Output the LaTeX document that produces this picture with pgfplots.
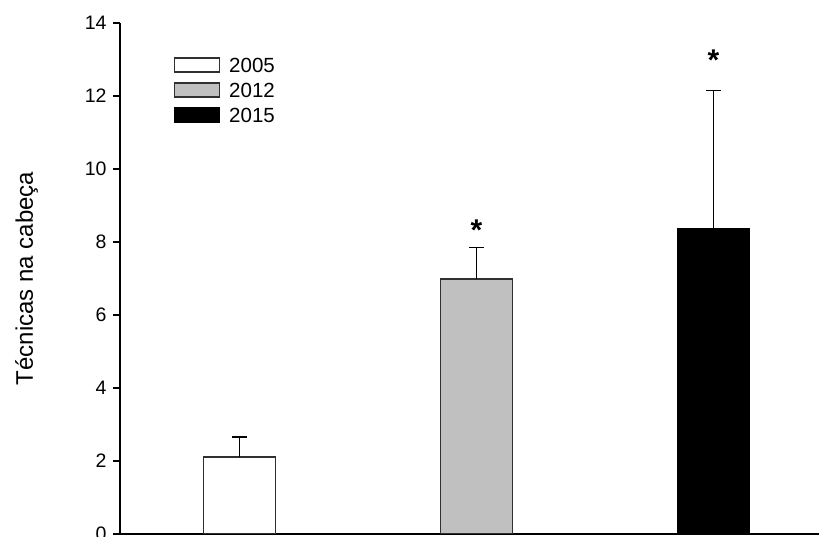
\documentclass[border=0pt]{standalone}
\usepackage{fontspec}
\setmainfont{Liberation Sans}
\usepackage{pgfplots}
\pgfplotsset{compat=1.18}
\definecolor{barline}{HTML}{303030}
\definecolor{midgray}{HTML}{C0C0C0}
\begin{document}
\begin{tikzpicture}[x=1pt,y=1pt]
\clip (0,0) rectangle (819,537);
\begin{axis}[
  scale only axis,
  width=699pt, height=511pt,
  at={(120pt,3pt)}, anchor=south west,
  xmin=-0.504, xmax=2.445,
  ymin=0, ymax=14,
  ytick={0,2,4,6,8,10,12,14},
  xtick=\empty,
  axis lines*=left,
  x axis line style={line width=2.3pt, black},
  y axis line style={line width=1.3pt, black},
  tick align=outside,
  major tick length=7pt,
  tick style={line width=1.2pt, black},
  /pgf/number format/assume math mode=true,
  yticklabel style={font=\fontsize{19.5}{21}\selectfont, xshift=-3pt},
  ylabel={Técnicas na cabeça},
  ylabel style={font=\fontsize{24}{26}\selectfont, at={(axis description cs:-0.1245,0.5)}, anchor=base},
  ybar, bar width=71.5pt, bar shift=0pt,
  error bars/y dir=plus, error bars/y explicit,
  error bars/error bar style={line width=1.3pt, black},
  error bars/error mark options={rotate=90, mark size=7.5pt, line width=1.3pt, black},
  legend style={draw=none, fill=none, at={(rel axis cs:0.0773,0.936)}, anchor=north west,
    inner sep=0pt, outer sep=0pt, row sep=6.5pt, column sep=7pt,
    font=\fontsize{20.5}{22}\selectfont,
    nodes={inner sep=2pt, text height=14.5pt, text depth=0pt}},
  legend cell align=left,
  legend image code/.code={\draw[#1, line width=1.2pt] (0pt,-7pt) rectangle (45pt,7pt);},
]
\addplot[fill=white, draw=barline, line width=1.3pt] coordinates {(0,2.11) +- (0,0.55)};
\addlegendentry{2005}
\addplot[fill=midgray, draw=barline, line width=1.3pt] coordinates {(1,6.99) +- (0,0.85)};
\addlegendentry{2012}
\addplot[fill=black, draw=black, line width=1.3pt] coordinates {(2,8.37) +- (0,3.79)};
\addlegendentry{2015}
\node[anchor=base, font=\bfseries\fontsize{30}{32}\selectfont, yshift=-17.2pt] at (axis cs:1,8.52) {*};
\node[anchor=base, font=\bfseries\fontsize{30}{32}\selectfont, yshift=-17.2pt] at (axis cs:2,13.18) {*};
\end{axis}
\end{tikzpicture}
\end{document}
